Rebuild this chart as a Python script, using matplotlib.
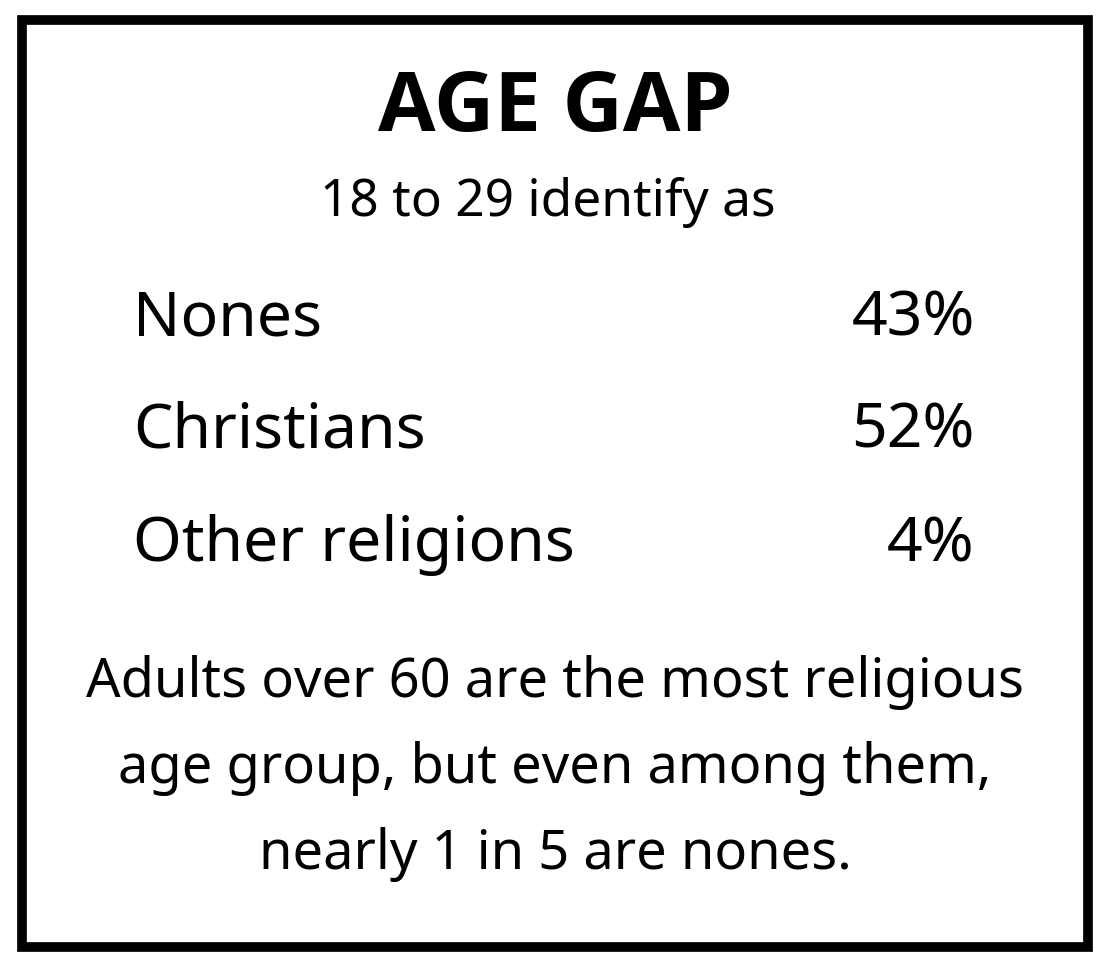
import matplotlib.pyplot as plt
from matplotlib.patches import Rectangle

plt.rcParams["font.family"] = ["Noto Sans", "DejaVu Sans"]

title = "AGE GAP"
subtitle = "18 to 29 identify as"
categories = ["Nones", "Christians", "Other religions"]
shares = [43, 52, 4]
note_lines = [
    "Adults over 60 are the most religious",
    "age group, but even among them,",
    "nearly 1 in 5 are nones.",
]

W, H = 1110, 974
fig = plt.figure(figsize=(W / 100, H / 100), dpi=100)
ax = fig.add_axes([0, 0, 1, 1])
ax.set_xlim(0, W)
ax.set_ylim(H, 0)
ax.axis("off")

# frame
ax.add_patch(Rectangle((22, 20), 1066, 927, fill=False, edgecolor="black", linewidth=7))

ax.text(555, 110, title, ha="center", va="center", fontsize=60, fontweight="bold",
        family=["Open Sans", "Roboto", "DejaVu Sans"])
ax.text(548, 203, subtitle, ha="center", va="center", fontsize=37)

row_y = [320, 432, 545]
for y, cat, val in zip(row_y, categories, shares):
    ax.text(133, y, cat, ha="left", va="center", fontsize=45)
    ax.text(975, y, f"{val}%", ha="right", va="center", fontsize=45)

for i, line in enumerate(note_lines):
    ax.text(555, 683 + i * 86, line, ha="center", va="center", fontsize=39)

fig.savefig("out.png", dpi=100, facecolor="white")
